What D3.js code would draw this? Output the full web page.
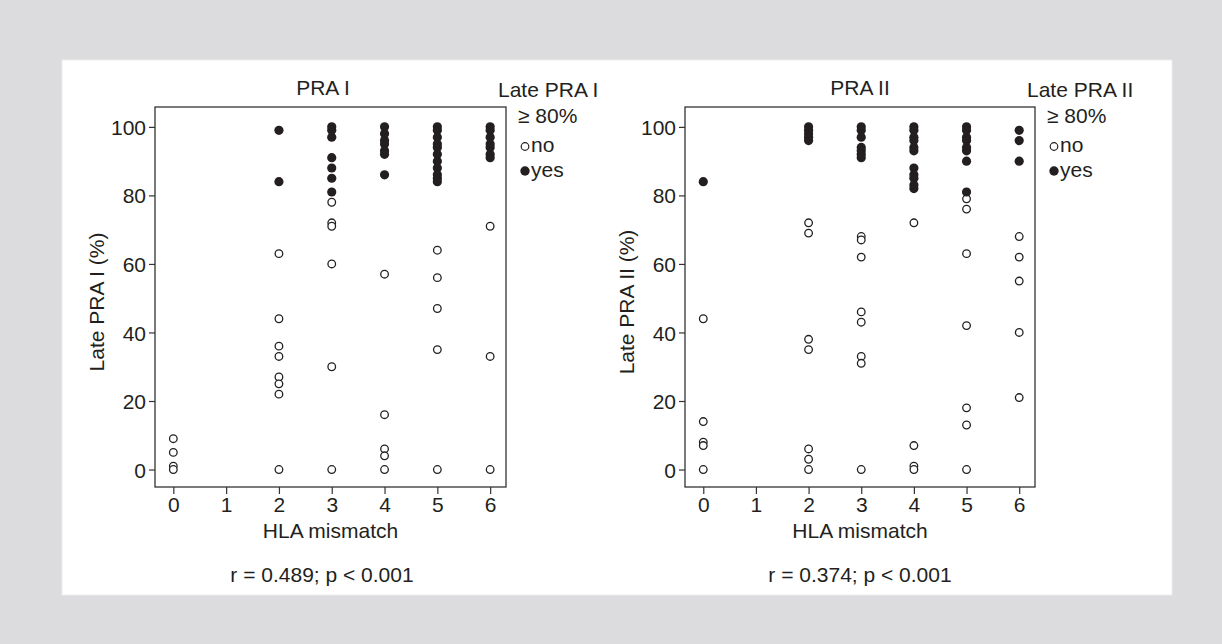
<!DOCTYPE html>
<html>
<head>
<meta charset="utf-8">
<script src="https://cdn.jsdelivr.net/npm/d3@7"></script>
<style>
  html, body { margin: 0; padding: 0; background: #dcdcde; }
  svg { display: block; }
  text { font-family: "Liberation Sans", Arial, Helvetica, sans-serif; fill: #231f20; }
</style>
</head>
<body>
<svg id="chart" width="1222" height="644"></svg>
<script>
// ---------- data ----------
const mismatch = [0, 1, 2, 3, 4, 5, 6];
const xTicks = [0, 1, 2, 3, 4, 5, 6];
const yTicks = [0, 20, 40, 60, 80, 100];

// PRA I: late PRA I (%) per HLA mismatch column
const praI_yes = [
  [], [], [99, 84],
  [100, 99, 97, 91, 88, 85, 81],
  [100, 98, 96, 95, 93, 92, 86],
  [100, 99, 97, 95, 94, 92, 90, 88, 86, 85, 84],
  [100, 99, 97, 95, 94, 92, 91]
];
const praI_no = [
  [9, 5, 1, 0], [], [63, 44, 36, 33, 27, 25, 22, 0],
  [78, 72, 71, 60, 30, 0],
  [57, 16, 6, 4, 0],
  [64, 56, 47, 35, 0],
  [71, 33, 0]
];

// PRA II
const praII_yes = [
  [84], [], [100, 99, 98, 97, 96],
  [100, 99, 97, 94, 93, 92, 91],
  [100, 99, 97, 96, 94, 93, 88, 86, 85, 83, 82],
  [100, 99, 97, 96, 94, 93, 90, 81],
  [99, 96, 90]
];
const praII_no = [
  [44, 14, 8, 7, 0], [], [72, 69, 38, 35, 6, 3, 0],
  [68, 67, 62, 46, 43, 33, 31, 0],
  [72, 7, 1, 0],
  [79, 76, 63, 42, 18, 13, 0],
  [68, 62, 55, 40, 21]
];

const panels = [
  { title: "PRA I", ylab: "Late PRA I (%)", legTitle: "Late PRA I", stat: "r = 0.489; p < 0.001",
    yes: praI_yes, no: praI_no, x0: 155, x1: 506, titleX: 323, statX: 322 },
  { title: "PRA II", ylab: "Late PRA II (%)", legTitle: "Late PRA II", stat: "r = 0.374; p < 0.001",
    yes: praII_yes, no: praII_no, x0: 685, x1: 1035, titleX: 860, statX: 860 }
];

// ---------- drawing ----------
const svg = d3.select("#chart");
svg.append("rect").attr("x", 0).attr("y", 0).attr("width", 1222).attr("height", 644).attr("fill", "#dcdcde");
svg.append("rect").attr("x", 62).attr("y", 60).attr("width", 1110).attr("height", 535)
  .attr("fill", "#ffffff").attr("stroke", "#ececec").attr("stroke-width", 1);

const FS = 21;
const yTop = 107, yBot = 487;

function flatten(cols) {
  const out = [];
  cols.forEach((vals, i) => vals.forEach(v => out.push({ x: mismatch[i], y: v })));
  return out;
}

panels.forEach(p => {
  const g = svg.append("g");
  const x = d3.scaleLinear().domain([-0.347, 6.3]).range([p.x0, p.x1]);
  const y = d3.scaleLinear().domain([-5.1, 105.8]).range([yBot, yTop]);

  // axes
  const ax = g.append("g").attr("transform", `translate(0,${yBot})`)
    .call(d3.axisBottom(x).tickValues(xTicks).tickSize(7).tickPadding(3).tickFormat(d3.format("d")));
  const ay = g.append("g").attr("transform", `translate(${p.x0},0)`)
    .call(d3.axisLeft(y).tickValues(yTicks).tickSize(6).tickPadding(3).tickFormat(d3.format("d")));
  [ax, ay].forEach(a => {
    a.select(".domain").remove();
    a.selectAll(".tick line").attr("stroke", "#333").attr("stroke-width", 1.2);
    a.selectAll(".tick text").attr("font-size", FS).attr("fill", "#231f20")
      .style("font-family", '"Liberation Sans", Arial, sans-serif');
  });
  ay.selectAll(".tick text").attr("dy", "0.36em");

  // frame
  g.append("rect").attr("x", p.x0).attr("y", yTop).attr("width", p.x1 - p.x0).attr("height", yBot - yTop)
    .attr("fill", "none").attr("stroke", "#333").attr("stroke-width", 1.3);

  // points
  g.selectAll("circle.no").data(flatten(p.no)).join("circle").attr("class", "no")
    .attr("cx", d => x(d.x)).attr("cy", d => y(d.y)).attr("r", 3.8)
    .attr("fill", "#fff").attr("stroke", "#231f20").attr("stroke-width", 1.3);
  g.selectAll("circle.yes").data(flatten(p.yes)).join("circle").attr("class", "yes")
    .attr("cx", d => x(d.x)).attr("cy", d => y(d.y)).attr("r", 4.6)
    .attr("fill", "#231f20");

  // title
  g.append("text").attr("x", p.titleX).attr("y", 95).attr("text-anchor", "middle").attr("font-size", FS).text(p.title);
  // x label
  g.append("text").attr("x", (p.x0 + p.x1) / 2).attr("y", 538).attr("text-anchor", "middle").attr("font-size", FS).text("HLA mismatch");
  // y label
  g.append("text").attr("transform", `translate(${p.x0 - 51},${(yTop + yBot) / 2 + 5}) rotate(-90)`)
    .attr("text-anchor", "middle").attr("font-size", FS).text(p.ylab);
  // stat
  g.append("text").attr("x", p.statX).attr("y", 582).attr("text-anchor", "middle").attr("font-size", FS).text(p.stat);

  // legend
  const lx = p.x1;
  g.append("text").attr("x", lx - 8).attr("y", 97).attr("font-size", FS).text(p.legTitle);
  g.append("text").attr("x", lx + 12).attr("y", 123).attr("font-size", FS).text("≥ 80%");
  g.append("circle").attr("cx", lx + 19).attr("cy", 146.5).attr("r", 3.8)
    .attr("fill", "#fff").attr("stroke", "#231f20").attr("stroke-width", 1.2);
  g.append("text").attr("x", lx + 25).attr("y", 152).attr("font-size", FS).text("no");
  g.append("circle").attr("cx", lx + 19).attr("cy", 171).attr("r", 4.7).attr("fill", "#231f20");
  g.append("text").attr("x", lx + 25).attr("y", 177).attr("font-size", FS).text("yes");
});
</script>
</body>
</html>
